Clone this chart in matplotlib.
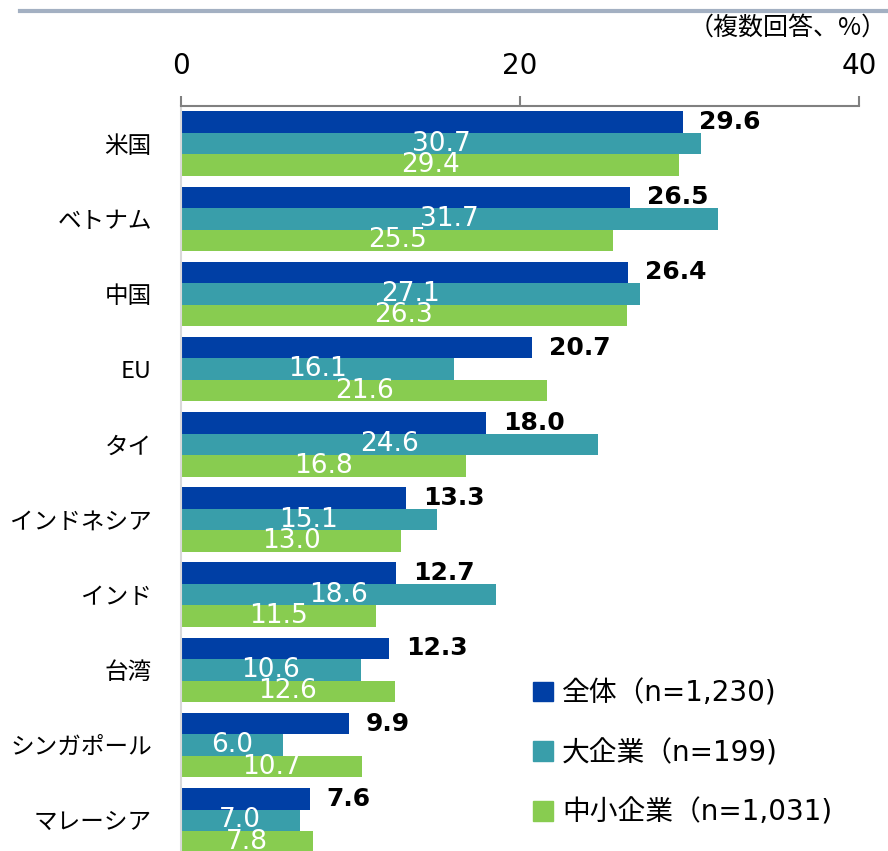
import matplotlib
matplotlib.use("Agg")
import matplotlib.pyplot as plt
from matplotlib.patches import Patch
import numpy as np

plt.rcParams['font.family'] = ['DejaVu Sans', 'Noto Sans CJK JP']

categories = ['米国', 'ベトナム', '中国', 'EU', 'タイ', 'インドネシア',
              'インド', '台湾', 'シンガポール', 'マレーシア']
total = [29.6, 26.5, 26.4, 20.7, 18.0, 13.3, 12.7, 12.3, 9.9, 7.6]
large = [30.7, 31.7, 27.1, 16.1, 24.6, 15.1, 18.6, 10.6, 6.0, 7.0]
sme = [29.4, 25.5, 26.3, 21.6, 16.8, 13.0, 11.5, 12.6, 10.7, 7.8]
series_names = ['全体（n=1,230)', '大企業（n=199)', '中小企業（n=1,031)']
colors = ['#003FA5', '#399EAA', '#88CC50']

fig = plt.figure(figsize=(8.88, 8.51), dpi=100)
ax = fig.add_axes([181 / 888, 0, 678 / 888, 745 / 851])

y = np.arange(len(categories))
h = 0.286
ax.barh(y - h, total, height=h, color=colors[0])
ax.barh(y, large, height=h, color=colors[1])
ax.barh(y + h, sme, height=h, color=colors[2])

for i in range(len(categories)):
    ax.annotate(f'{total[i]:.1f}', (total[i], y[i] - h), xytext=(12, 0),
                textcoords='offset points', ha='left', va='center',
                fontsize=18, fontweight='bold', color='black')
    ax.text(large[i] / 2, y[i], f'{large[i]:.1f}', ha='center', va='center',
            fontsize=19, color='white')
    ax.text(sme[i] / 2, y[i] + h, f'{sme[i]:.1f}', ha='center', va='center',
            fontsize=19, color='white')

ax.set_xlim(0, 40)
ax.set_ylim(9.408, -0.5)
ax.xaxis.tick_top()
ax.set_xticks([0, 20, 40])
ax.tick_params(axis='x', direction='out', length=7, width=1.5, color='#808080',
               labelsize=20, pad=12)
ax.set_yticks(y)
ax.set_yticklabels(categories, fontsize=17, family=['Noto Sans CJK JP'])
ax.tick_params(axis='y', length=0, pad=21)

for s in ['right', 'bottom']:
    ax.spines[s].set_visible(False)
ax.spines['top'].set_color('#808080')
ax.spines['top'].set_linewidth(1.5)
ax.spines['left'].set_color('#d9d9d9')
ax.spines['left'].set_linewidth(1.5)

handles = [Patch(color=c) for c in colors]
ax.legend(handles, series_names, loc='upper left',
          bbox_to_anchor=((522 - 181) / 678, (851 - 668) / 745),
          frameon=False, handlelength=0.72, handleheight=0.72,
          handletextpad=0.32, labelspacing=1.15, borderaxespad=0,
          prop={'family': ['DejaVu Sans', 'Noto Sans CJK JP'], 'size': 20})

fig.text(887 / 888, 1 - 28 / 851, '（複数回答、%）', ha='right', va='center',
         fontsize=18, family=['Noto Sans CJK JP'])
fig.add_artist(plt.Line2D([20 / 888, 1], [1 - 11 / 851, 1 - 11 / 851],
                          color='#a3b0c2', linewidth=3))

fig.savefig('out.png', dpi=100)
